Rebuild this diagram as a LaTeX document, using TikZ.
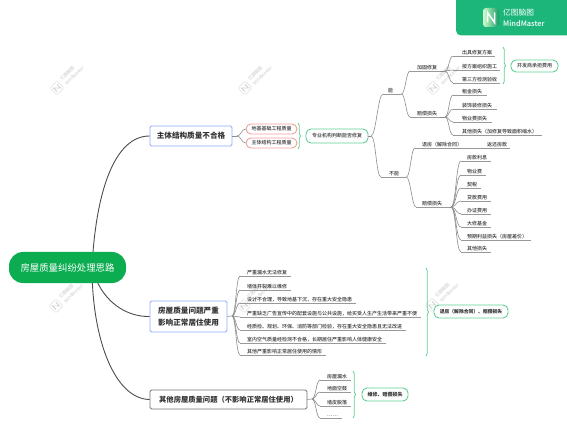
\documentclass[tikz,border=0pt]{standalone}
\usepackage{fontspec}
\setmainfont{Noto Sans CJK SC}
\newfontfamily\medfont{Noto Sans CJK SC Medium}
\usepackage{xcolor}
\usetikzlibrary{decorations.pathreplacing}
\definecolor{rootgreen}{HTML}{0BAD50}
\definecolor{logogreen}{HTML}{1CB67B}
\definecolor{bluebd}{HTML}{8FAAFB}
\definecolor{redbd}{HTML}{F29C9C}
\definecolor{greenbd}{HTML}{5FCF92}
\definecolor{inktext}{HTML}{333333}
\newcommand{\fsz}[1]{\fontsize{#1}{#1}\selectfont\baselineskip=1.55\baselineskip\relax}
\tikzset{
  leaf/.style={anchor=south west,inner xsep=0pt,inner ysep=0.6pt,text=inktext,text height=4.4pt,text depth=0.6pt,font=\medfont\fsz{5}},
  pad/.style 2 args={execute at begin node={\kern#1pt},execute at end node={\kern#2pt}},
  ul/.style={draw=black!40,line width=0.6pt},
  link/.style={draw=black!45,line width=0.6pt},
  trunk/.style={draw=black!70,line width=0.9pt},
  topic/.style={draw,rounded corners=1.5pt,line width=0.9pt,fill=white,text=inktext,inner sep=0pt,align=center,font=\bfseries\fsz{7.6}},
  pill/.style={draw,rounded corners=5pt,line width=0.9pt,fill=white,text=inktext,inner sep=0pt,font=\medfont\fsz{5}},
  span/.style={draw=greenbd,line width=0.7pt,decorate,decoration={brace,amplitude=2.5pt}}
}
\begin{document}
\begin{tikzpicture}[x=1pt,y=-1pt]
  \useasboundingbox (0,0) rectangle (567,430);
  % faint marks behind the map
  \foreach \wx/\wy in {57/88,245/88,433/88,56/306,244/306,432/305}{
    \draw[black!12,line width=0.6pt,rounded corners=1.5pt,rotate around={45:(\wx,\wy)}] (\wx-5,\wy-5) rectangle (\wx+5,\wy+5);
    \draw[black!18,line width=0.8pt,rotate around={45:(\wx,\wy)}] (\wx-2.5,\wy+2.5) -- (\wx-2.5,\wy-2.5) -- (\wx+2.5,\wy+2.5) -- (\wx+2.5,\wy-2.5);
    \node[rotate=45,align=left,text=black!18,inner sep=0pt,font=\medfont\fsz{4.4}] at (\wx+15,\wy-15) {亿图脑图\\MindMaster};
  }
  % logo block
  \fill[logogreen] (456,0) [rounded corners=5pt] -- (456,35.5) [sharp corners] -- (567,35.5) -- (567,0) -- cycle;
  \shade[left color=green!20!white,right color=logogreen!85!black,rounded corners=3pt] (483,8) rectangle (499,27);
  \draw[white,line width=1.5pt] (487.5,22.5) -- (487.5,12.5) -- (494.5,22.5) -- (494.5,12.5);
  \node[text=white,anchor=west,inner sep=0pt,font=\fsz{7.7}] (logoA) at (503,12.5) {亿图脑图};
  \node[text=white,anchor=west,inner sep=0pt,font=\medfont\fsz{7.4}] (logoB) at (503,24) {MindMaster};
  % first level
  \coordinate (rootc) at (92,267);
  \node[topic,draw=bluebd,minimum width=82pt,minimum height=20pt,font=\bfseries\fsz{7.6}] (topicA) at (191,136) {主体结构质量不合格};
  \node[topic,draw=bluebd,minimum width=77pt,minimum height=31pt] (topicB) at (188.5,316.5) {房屋质量问题严重\\影响正常居住使用};
  \node[topic,draw=black!55,minimum width=157pt,minimum height=19pt,font=\bfseries\fsz{7.3}] (topicC) at (228.5,399.5) {其他房屋质量问题（不影响正常居住使用）};
  \draw[trunk] (rootc) .. controls (96,190) and (115,136) .. (topicA.west);
  \draw[trunk] (rootc) .. controls (100,300) and (125,317) .. (topicB.west);
  \draw[trunk] (rootc) .. controls (92,340) and (115,399) .. (topicC.west);
  \node[fill=rootgreen,text=white,rounded corners=14pt,minimum width=117pt,minimum height=31pt,inner sep=0pt,font=\fsz{9.4}] (root) at (67.5,267.5) {房屋质量纠纷处理思路};
  % branch one
  \coordinate (hubA) at (237,136);
  \node[pill,draw=redbd,minimum width=51pt,minimum height=10pt] (baseQ) at (271.5,129) {地基基础工程质量};
  \node[pill,draw=redbd,minimum width=51pt,minimum height=10pt] (mainQ) at (271.5,143) {主体结构工程质量};
  \draw[link] (topicA.east) -- (hubA);
  \draw[link] (hubA) .. controls +(4,0) and +(-4,0) .. (baseQ.west);
  \draw[link] (hubA) .. controls +(4,0) and +(-4,0) .. (mainQ.west);
  \draw[span] (298,123) -- (298,149);
  \node[pill,draw=greenbd,minimum width=62pt,minimum height=14pt] (judge) at (337,136) {专业机构判断能否修复};
  \coordinate (hubB) at (371,136);
  \draw[link] (judge.east) -- (hubB);
  \node[leaf,pad={5}{8}] (can) at (383,94) {能};
  \node[leaf,pad={8}{7}] (cannot) at (381,177) {不能};
  \node[leaf,pad={7}{3}] (reinforce) at (410,71) {加固修复};
  \node[leaf,pad={7}{3}] (lossA) at (410,117) {赔偿损失};
  \node[leaf,pad={7}{5}] (refund) at (415,148) {退房（解除合同）};
  \node[leaf,pad={20}{3}] (payback) at (467,148) {返还房款};
  \node[leaf,pad={6}{8}] (lossB) at (416,207) {赔偿损失};
  \foreach \nm in {can,cannot,reinforce,lossA,refund,payback,lossB}
    \draw[ul] (\nm.south west) -- (\nm.south east);
  \draw[link] (hubB) .. controls +(5,0) and +(-5,0) .. (can.south west);
  \draw[link] (hubB) .. controls +(5,0) and +(-5,0) .. (cannot.south west);
  \draw[link] (can.south east) .. controls +(4,0) and +(-4,0) .. (reinforce.south west);
  \draw[link] (can.south east) .. controls +(4,0) and +(-4,0) .. (lossA.south west);
  \draw[link] (cannot.south east) .. controls +(4,0) and +(-4,0) .. (refund.south west);
  \draw[link] (cannot.south east) .. controls +(4,0) and +(-4,0) .. (lossB.south west);
  % leaves of the repair side
  \coordinate (hubC) at (445,71);
  \coordinate (hubD) at (445,117);
  \coordinate (hubE) at (451,207);
  \draw[link] (reinforce.south east) -- (hubC);
  \draw[link] (lossA.south east) -- (hubD);
  \draw[link] (lossB.south east) -- (hubE);
  \foreach \nm/\yy/\txt in {planA/56/出具修复方案,planB/70/按方案组织施工,planC/83/第三方检测验收}{
    \node[leaf,pad={9}{3}] (\nm) at (453,\yy) {\txt};
    \draw[ul] (\nm.south west) -- (\nm.south east);
    \draw[link] (hubC) .. controls +(4,0) and +(-4,0) .. (\nm.south west);
  }
  \foreach \nm/\yy/\txt in {rentA/95/租金损失,rentB/109/装饰装修损失,rentC/122/物业费损失,rentD/135/其他损失（加修复导致面积缩水）}{
    \node[leaf,pad={9}{5}] (\nm) at (453,\yy) {\txt};
    \draw[ul] (\nm.south west) -- (\nm.south east);
    \draw[link] (hubD) .. controls +(4,0) and +(-4,0) .. (\nm.south west);
  }
  \foreach \nm/\yy/\txt in {feeA/161/房款利息,feeB/175/物业费,feeC/188/契税,feeD/201/贷款费用,feeE/214/办证费用,feeF/227/大修基金,feeG/240/预期利益损失（房屋差价）,feeH/252/其他损失}{
    \node[leaf,pad={6}{4}] (\nm) at (461,\yy) {\txt};
    \draw[ul] (\nm.south west) -- (\nm.south east);
    \draw[link] (hubE) .. controls +(5,0) and +(-5,0) .. (\nm.south west);
  }
  \draw[span] (503,47) -- (503,84);
  \node[pill,draw=greenbd,minimum width=47pt,minimum height=12pt] (devpay) at (534.5,66) {开发商承担费用};
  % branch two
  \coordinate (hubF) at (232,316);
  \draw[link] (topicB.east) -- (hubF);
  \foreach \nm/\yy/\txt in {caseA/276/严重漏水无法修复,caseB/290/墙体开裂难以维修,caseC/303/设计不合理，导致地基下沉，存在重大安全隐患,caseD/317/严重缺乏广告宣传中的配套设施与公共设施，给买受人生产生活带来严重不便,caseE/330/经质检、规划、环保、消防等部门检验，存在重大安全隐患且无法改进,caseF/343/室内空气质量经检测不合格，长期居住严重影响人体健康安全,caseG/355/其他严重影响正常居住使用的情形}{
    \node[leaf,pad={7}{4}] (\nm) at (240,\yy) {\txt};
    \draw[ul] (\nm.south west) -- (\nm.south east);
    \draw[link] (hubF) .. controls +(4,0) and +(-4,0) .. (\nm.south west);
  }
  \draw[span] (426,268) -- (426,356);
  \node[pill,draw=greenbd,minimum width=74pt,minimum height=13pt,font=\bfseries\fsz{4.8}] (endB) at (471,311.5) {退房（解除合同）、赔偿损失};
  % branch three
  \coordinate (hubG) at (312,399);
  \draw[link] (topicC.east) -- (hubG);
  \foreach \nm/\yy/\txt in {otherA/380/房屋漏水,otherB/392/地面空鼓,otherC/406/墙皮脱落,otherD/418/……}{
    \node[leaf,pad={7}{4}] (\nm) at (320,\yy) {\txt};
    \draw[ul] (\nm.south west) -- (\nm.south east);
    \draw[link] (hubG) .. controls +(4,0) and +(-4,0) .. (\nm.south west);
  }
  \draw[span] (353,371) -- (353,418);
  \node[pill,draw=greenbd,minimum width=46pt,minimum height=13pt,font=\bfseries\fsz{5}] (endC) at (385,394.5) {维修、赔偿损失};
\end{tikzpicture}
\end{document}
